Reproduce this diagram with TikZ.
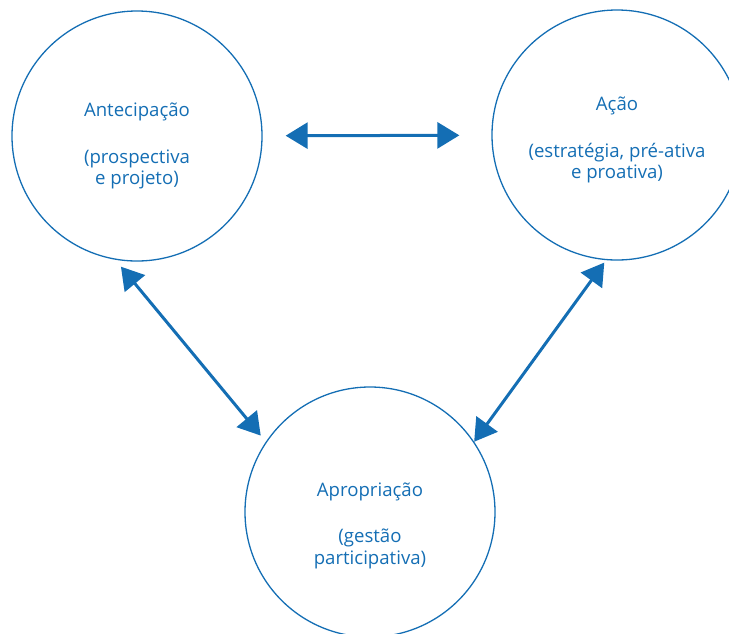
\documentclass[tikz,border=0pt]{standalone}
\usepackage{fontspec}
\setmainfont{Open Sans}
\usetikzlibrary{arrows.meta,positioning}
\definecolor{azul}{RGB}{20,110,180}

\begin{document}
\begin{tikzpicture}[x=1pt,y=-1pt]
      \tikzstyle{etapa} = [circle, draw=azul, line width=1.3pt, minimum size=250pt, inner sep=0pt, text=azul, align=center, font=\fontsize{18.6}{21.5}\selectfont]
      \tikzstyle{seta} = [{Triangle[length=22pt,width=26pt]}-{Triangle[length=22pt,width=26pt]}, line width=3pt, draw=azul]

      \clip (0,0) rectangle (729,633);

      \node[etapa] (ant) at (137,136) {\rule{0pt}{33pt}Antecipação\\[25.5pt](prospectiva\\e projeto)};
      \node[etapa] (acao) at (617,135) {\rule{0pt}{23pt}Ação\\[25.5pt](estratégia, pré-ativa\\e proativa)};
      \node[etapa] (apr) at (370,512) {\rule{0pt}{41pt}Apropriação\\[25pt](gestão\\participativa)};

      \draw[seta, shorten <=23pt, shorten >=32pt] (ant) -- (acao);
      \draw[seta, shorten <=9pt, shorten >=8pt] (ant.260) -- (apr.146);
      \draw[seta, shorten <=3pt, shorten >=0pt] (acao.265) -- (apr.34);
\end{tikzpicture}
\end{document}
